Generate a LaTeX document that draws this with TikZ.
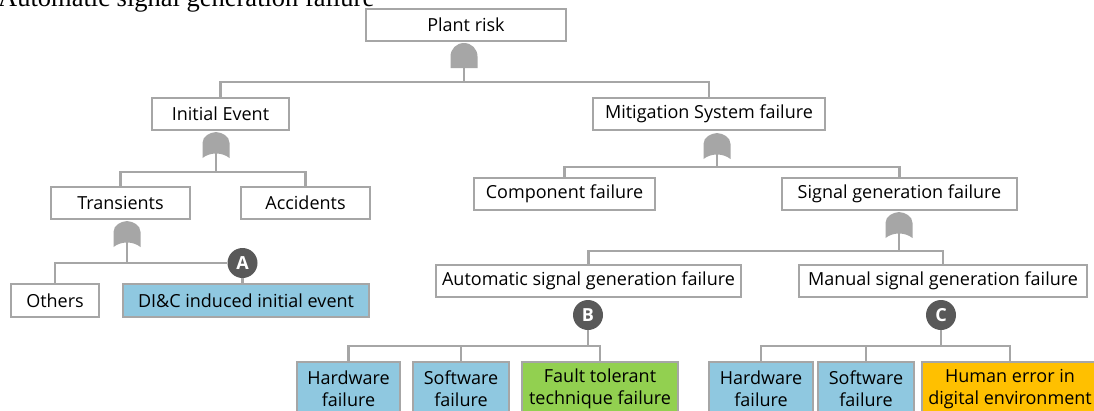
\documentclass[tikz,border=0pt]{standalone}
\usepackage{fontspec}
\setmainfont{Open Sans}
\newfontfamily\serifA{Liberation Serif}
\definecolor{gc}{HTML}{A6A6A6}
\definecolor{dk}{HTML}{595959}
\definecolor{bl}{HTML}{8FC8E0}
\definecolor{gr}{HTML}{92D050}
\definecolor{og}{HTML}{FFC000}
\begin{document}
\begin{tikzpicture}[x=1pt,y=-1pt,
  box/.style={draw=gc, line width=2.4pt, fill=white, rectangle, inner sep=0pt,
    minimum height=32pt, font=\fontsize{18}{22}\selectfont, align=center},
  lowbox/.style={box, minimum height=54pt},
  conn/.style={draw=gc, line width=2.4pt},
  circ/.style={circle, fill=dk, minimum size=30pt, inner sep=0pt, text=white,
    font=\fontsize{18}{18}\selectfont\bfseries},
  orgate/.pic={
    \fill[gc] (-13.5,26) -- (-13.5,11) .. controls (-13.5,4) and (-6,0.5) .. (0,0)
      .. controls (6,0.5) and (13.5,4) .. (13.5,11) -- (13.5,26)
      .. controls (6,20) and (-6,20) .. (-13.5,26) -- cycle;
    \coordinate (-out) at (0,21);
  },
  andgate/.pic={
    \fill[gc] (-13.5,25) -- (-13.5,13.5) .. controls (-13.5,6) and (-7.5,0) .. (0,0)
      .. controls (7.5,0) and (13.5,6) .. (13.5,13.5) -- (13.5,25) -- cycle;
    \coordinate (-out) at (0,25);
  }
]
\fill[white] (0,0) rectangle (1094,410);
\useasboundingbox (0,0) rectangle (1094,410);

% clipped caption at the top
\node[anchor=base west, inner sep=0pt, font=\serifA\fontsize{26.5}{30}\selectfont] (ttl) at (-2,6.5) {Automatic signal generation failure};

% bus levels
\coordinate (b1) at (0,82);
\coordinate (b2) at (0,172);
\coordinate (b3) at (0,167);
\coordinate (b4) at (0,251);
\coordinate (bB) at (0,346);

% boxes
\node[box, minimum width=200pt] (PR) at (466,25) {Plant risk};
\node[box, minimum width=137pt] (IE) at (220.5,114) {Initial Event};
\node[box, minimum width=232pt] (MS) at (709,114) {Mitigation System failure};
\node[box, minimum width=139pt] (TR) at (120.5,203) {Transients};
\node[box, minimum width=129pt] (AC) at (305.5,203) {Accidents};
\node[box, minimum width=181pt] (CF) at (564.5,194) {Component failure};
\node[box, minimum width=235pt] (SG) at (899.5,194) {Signal generation failure};
\node[box, minimum width=88pt, minimum height=33pt] (OT) at (55,300.5) {Others};
\node[box, minimum width=246pt, minimum height=33pt, fill=bl] (DI) at (246,300.5) {DI\&C induced initial event};
\node[box, minimum width=305pt] (AU) at (588.5,281) {Automatic signal generation failure};
\node[box, minimum width=288pt] (MA) at (943,281) {Manual signal generation failure};

\node[lowbox, minimum width=103pt, fill=bl] (HW1) at (348.5,389) {Hardware\\failure};
\node[lowbox, minimum width=96pt, fill=bl] (SW1) at (461,389) {Software\\failure};
\node[lowbox, minimum width=156pt, fill=gr] (FT) at (600,389) {Fault tolerant\\technique failure};
\node[lowbox, minimum width=104pt, fill=bl] (HW2) at (761,389) {Hardware\\failure};
\node[lowbox, minimum width=96pt, fill=bl] (SW2) at (866,389) {Software\\failure};
\node[lowbox, minimum width=176pt, fill=og] (HE) at (1010,389) {Human error in\\digital environment};

% gates
\pic (gPR) at (464,43) {andgate};
\pic (gIE) at (216,132) {orgate};
\pic (gTR) at (127,221) {orgate};
\pic (gMS) at (717,133) {orgate};
\pic (gSG) at (899,212) {orgate};

% connectors
\draw[conn] (gPR-out) -- (gPR-out |- b1);
\draw[conn] (IE.north) -- (IE.north |- b1) -| (MS.north);

\draw[conn] (gIE-out) -- (gIE-out |- b2);
\draw[conn] (TR.north) -- (TR.north |- b2) -| (AC.north);

\draw[conn] (gMS-out) -- (gMS-out |- b3);
\draw[conn] (CF.north) -- (CF.north |- b3) -| (SG.north);

\draw[conn] (gSG-out) -- (gSG-out |- b4);
\draw[conn] (AU.north) -- (AU.north |- b4) -| (MA.north);

% event markers
\node[circ] (A) at (242.5,263) {A};
\node[circ] (B) at (588,315) {B};
\node[circ] (C) at (941,315) {C};

\draw[conn] (gTR-out) -- (gTR-out |- A);
\draw[conn] (OT.north) |- (A.west);
\draw[conn] (A.south) -- (A.south |- DI.north);

\draw[conn] (B.south) -- (B.south |- bB);
\draw[conn] (HW1.north) -- (HW1.north |- bB) -| (FT.north);
\draw[conn] (SW1.north) -- (SW1.north |- bB);

\draw[conn] (C.south) -- (C.south |- bB);
\draw[conn] (HW2.north) -- (HW2.north |- bB) -| (HE.north);
\draw[conn] (SW2.north) -- (SW2.north |- bB);
\end{tikzpicture}
\end{document}
